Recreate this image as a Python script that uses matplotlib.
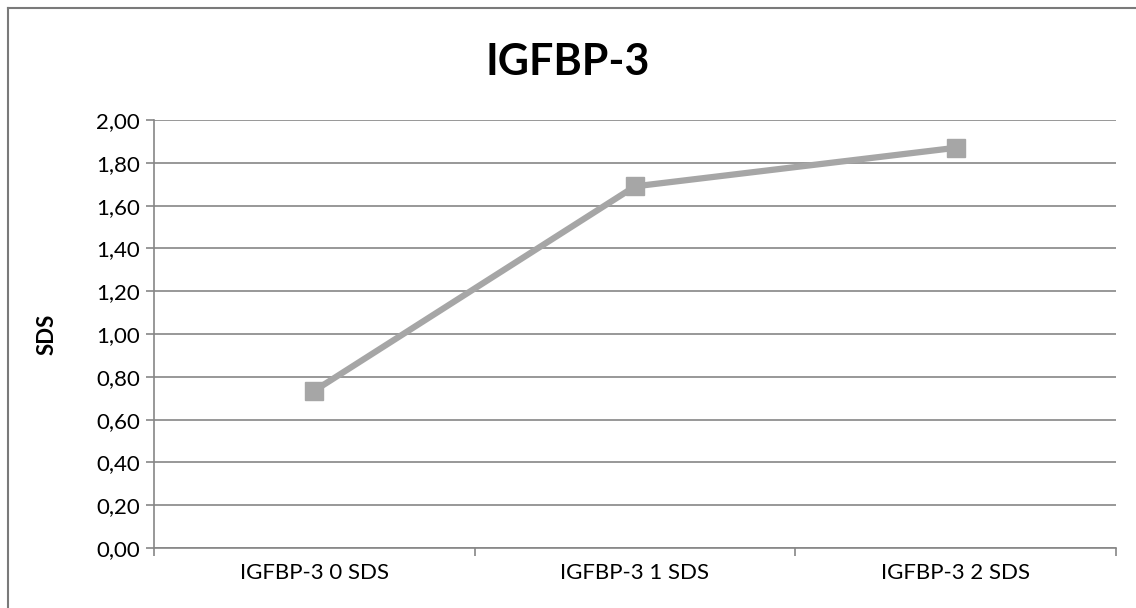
import matplotlib.pyplot as plt
from matplotlib.lines import Line2D
from matplotlib.ticker import FuncFormatter, FixedLocator

categories = ['IGFBP-3 0 SDS', 'IGFBP-3 1 SDS', 'IGFBP-3 2 SDS']
sds_values = [0.735, 1.69, 1.87]
y_ticks = [0.0, 0.2, 0.4, 0.6, 0.8, 1.0, 1.2, 1.4, 1.6, 1.8, 2.0]

plt.rcParams['font.family'] = ['Lato', 'DejaVu Sans']

W, H = 1136, 608
fig = plt.figure(figsize=(W / 100, H / 100), dpi=100)
fig.patch.set_facecolor('white')

# outer chart border: only top and left edges fall inside the picture
bx, by = 7.5 / W, 1 - 7.5 / H
fig.add_artist(Line2D([bx, 1.0], [by, by], transform=fig.transFigure,
                      color='#7a7a7a', linewidth=1.5))
fig.add_artist(Line2D([bx, bx], [0.0, by], transform=fig.transFigure,
                      color='#7a7a7a', linewidth=1.5))

left, right, top, bottom = 154, 1116, 120, 548
ax = fig.add_axes([left / W, 1 - bottom / H, (right - left) / W, (bottom - top) / H])

x = list(range(len(categories)))
ax.plot(x, sds_values, color='#A6A6A6', linewidth=4.5, marker='s', markersize=13,
        markerfacecolor='#A6A6A6', markeredgecolor='#A6A6A6', zorder=3, clip_on=False)

ax.set_xlim(-0.5, len(categories) - 0.5)
ax.set_ylim(0, 2.0)
ax.set_yticks(y_ticks)
ax.yaxis.set_major_formatter(FuncFormatter(lambda v, p: f'{v:.2f}'.replace('.', ',')))
ax.set_xticks(x)
ax.set_xticklabels(categories)
ax.xaxis.set_minor_locator(FixedLocator([-0.5, 0.5, 1.5, 2.5]))

ax.grid(axis='y', color='#868686', linewidth=1.2, zorder=0)
for s in ['top', 'right']:
    ax.spines[s].set_visible(False)
for s in ['left', 'bottom']:
    ax.spines[s].set_color('#868686')
    ax.spines[s].set_linewidth(1.2)

ax.tick_params(axis='y', length=6, width=1.2, color='#868686', labelsize=16, pad=4)
ax.tick_params(axis='x', which='major', length=0, labelsize=16, pad=11)
ax.tick_params(axis='x', which='minor', length=6, width=1.2, color='#868686')

ax.set_ylabel('SDS', fontsize=16, fontweight='bold')
ax.yaxis.set_label_coords(-96 / (right - left), 0.5)
fig.text(0.5, 1 - 62 / H, 'IGFBP-3', ha='center', va='center', fontsize=31, fontweight='bold')

fig.savefig('out.png', dpi=100)
